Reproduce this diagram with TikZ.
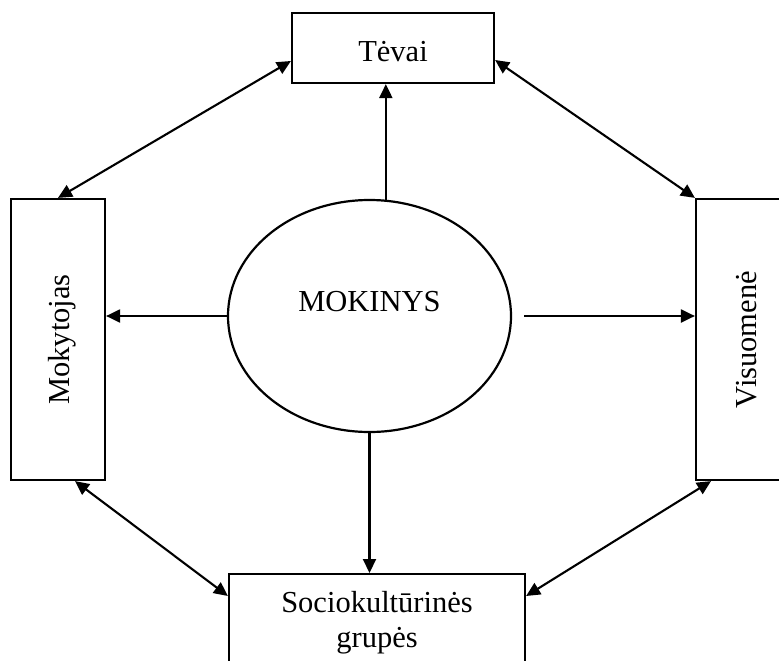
\documentclass[tikz,border=0pt]{standalone}
\usepackage{fontspec}
\setmainfont{Liberation Serif}
\usetikzlibrary{arrows.meta,shapes.geometric,calc}

\begin{document}
\begin{tikzpicture}[x=1pt,y=-1pt,
  every node/.style={font=\fontsize{30.5}{35}\selectfont},
  box/.style={draw, line width=2.2pt, rectangle, inner sep=0pt},
  arr/.style={line width=2.1pt, -{Triangle[length=14pt,width=13pt]}},
  biarr/.style={line width=2.1pt,
    {Triangle[length=14pt,width=13pt]}-{Triangle[length=14pt,width=13pt]}}]
\useasboundingbox (0,0) rectangle (779,661);
\clip (0,0) rectangle (779,661);

% boxes around the pupil
\node[box, minimum width=202pt, minimum height=70pt,
      text height=27.4pt, text depth=0pt] (tevai) at (393,48) {Tėvai};
\node[box, rotate=90, minimum width=281pt, minimum height=94pt,
      text height=22pt, text depth=0pt] (mokytojas) at (58,339.5) {Mokytojas};
\node[box, rotate=90, minimum width=281pt, minimum height=98pt,
      text height=22pt, text depth=0pt] (visuomene) at (745,339.5) {Visuomenė};
\node[box, anchor=north, minimum width=296pt, inner ysep=17pt,
      align=center] (groups) at (377,573) {Sociokultūrinės\\grupės};

% the pupil in the centre
\node[draw, ellipse, line width=2.2pt, minimum width=283pt, minimum height=232pt,
      inner sep=0pt, text height=20pt, text depth=28.6pt] (mokinys) at (369.5,316) {MOKINYS};

% one-way links from the pupil
\draw[arr] (mokinys.82.8) -- (mokinys.82.8 |- tevai.south);
\draw[arr] (mokinys.west) -- (mokinys.west -| mokytojas.south);
\draw[arr] ([xshift=12pt]mokinys.east) -- (mokinys.east -| visuomene.north);
\draw[arr] (mokinys.south) -- (mokinys.south |- groups.north);

% two-way links around the ring
\draw[biarr] (mokytojas.east) -- ($(tevai.west)+(0,13)$);
\draw[biarr] ($(tevai.east)+(0,12)$) -- (visuomene.north |- visuomene.east);
\draw[biarr] ($(mokytojas.west)+(17,0)$) -- ($(groups.north west)+(0,23)$);
\draw[biarr] ($(visuomene.west)+(-34,0)$) -- ($(groups.north east)+(0,23)$);
\end{tikzpicture}
\end{document}
